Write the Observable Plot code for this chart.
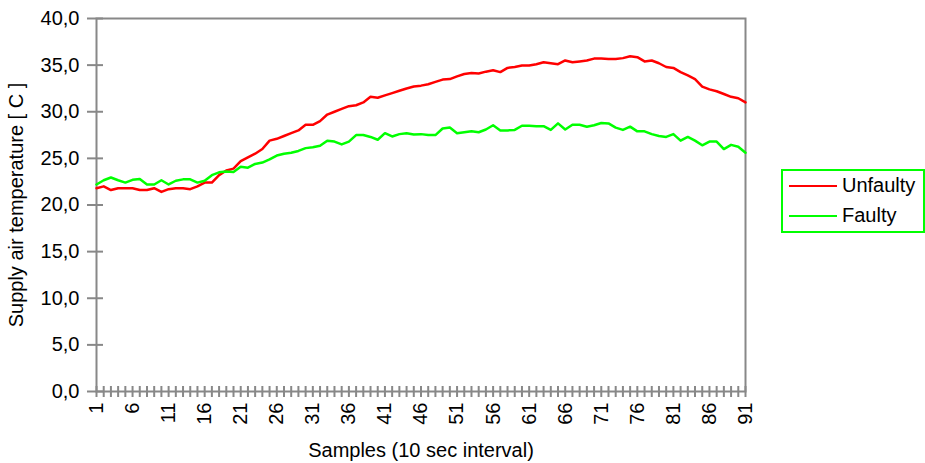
<!DOCTYPE html>
<html>
<head>
<meta charset="utf-8">
<script src="https://cdn.jsdelivr.net/npm/d3@7"></script>
<script src="https://cdn.jsdelivr.net/npm/@observablehq/plot@0.6"></script>
<style>
  html, body { margin: 0; padding: 0; background: #fff; }
  #chart { position: relative; width: 925px; height: 463px; font-family: "Liberation Sans", Arial, sans-serif; }
  .legend { position: absolute; left: 781px; top: 169px; width: 140px; height: 60px; border: 2px solid #00ff00; background: #fff; font-size: 20px; color: #000; }
  .legend .item { position: absolute; left: 6px; display: flex; align-items: center; }
  .legend .swatch { width: 48px; height: 0; border-top: 2.5px solid; margin-right: 5px; }
</style>
</head>
<body>
<div id="chart"></div>
<script>
// Sample index (10 s interval)
const samples = d3.range(1, 92);

// Supply air temperature, unfaulty run
const unfaulty = [
  21.8, 22.0, 21.6, 21.8, 21.8, 21.8, 21.6, 21.6, 21.8, 21.4,
  21.7, 21.8, 21.8, 21.7, 22.0, 22.4, 22.4, 23.2, 23.7, 23.9,
  24.7, 25.1, 25.5, 26.0, 26.9, 27.1, 27.4, 27.7, 28.0, 28.6,
  28.6, 29.0, 29.7, 30.0, 30.3, 30.6, 30.7, 31.0, 31.6, 31.5,
  31.75, 32.0, 32.25, 32.5, 32.7, 32.8, 32.95, 33.2, 33.45, 33.5,
  33.8, 34.05, 34.15, 34.1, 34.3, 34.45, 34.25, 34.7, 34.8, 34.95,
  34.95, 35.1, 35.3, 35.2, 35.1, 35.5, 35.3, 35.4, 35.5, 35.7,
  35.7, 35.65, 35.65, 35.75, 35.95, 35.85, 35.4, 35.5, 35.2, 34.8,
  34.7, 34.25, 33.9, 33.5, 32.7, 32.4, 32.2, 31.9, 31.6, 31.45,
  31.0
];

// Supply air temperature, faulty run
const faulty = [
  22.2, 22.65, 22.95, 22.65, 22.4, 22.7, 22.8, 22.2, 22.2, 22.65,
  22.2, 22.6, 22.75, 22.75, 22.4, 22.6, 23.2, 23.5, 23.6, 23.55,
  24.1, 24.0, 24.4, 24.55, 24.9, 25.3, 25.5, 25.6, 25.8, 26.1,
  26.2, 26.35, 26.9, 26.8, 26.5, 26.8, 27.5, 27.5, 27.3, 27.0,
  27.7, 27.35, 27.6, 27.7, 27.55, 27.6, 27.5, 27.5, 28.2, 28.3,
  27.7, 27.8, 27.9, 27.8, 28.1, 28.55, 28.0, 28.0, 28.05, 28.5,
  28.5, 28.45, 28.45, 28.05, 28.75, 28.1, 28.6, 28.6, 28.4, 28.55,
  28.8, 28.75, 28.3, 28.05, 28.4, 27.9, 27.9, 27.6, 27.4, 27.3,
  27.6, 26.9, 27.3, 26.9, 26.4, 26.8, 26.8, 26.0, 26.45, 26.25,
  25.6
];

const seriesNames = ["Unfaulty", "Faulty"];
const seriesColors = ["#ff0000", "#00ff00"];
const yTicks = [0, 5, 10, 15, 20, 25, 30, 35, 40];
const xLabelTicks = d3.range(1, 92, 5);

const rows = [
  ...samples.map((s, i) => ({sample: s, value: unfaulty[i], series: seriesNames[0]})),
  ...samples.map((s, i) => ({sample: s, value: faulty[i], series: seriesNames[1]}))
];

const fmt = d => d.toFixed(1).replace(".", ",");

const plot = Plot.plot({
  width: 925,
  height: 463,
  marginLeft: 96,
  marginRight: 180,
  marginTop: 18,
  marginBottom: 72,
  style: {fontFamily: "'Liberation Sans', Arial, sans-serif", fontSize: "20px", color: "#000", background: "#fff"},
  x: {domain: [1, 91]},
  y: {domain: [0, 40]},
  color: {domain: seriesNames, range: seriesColors},
  marks: [
    // crossing tick marks on both axes
    Plot.axisY({ticks: yTicks, tickSize: 16, dx: 7, tickFormat: () => "", stroke: "#888", strokeWidth: 2, label: null}),
    Plot.axisX({ticks: samples, tickSize: 11, dy: -5, tickFormat: () => "", stroke: "#888", strokeWidth: 2, label: null}),
    // tick labels and axis titles
    Plot.axisY({ticks: yTicks, tickSize: 0, tickPadding: 17, tickFormat: fmt, fill: "#000",
      label: "Supply air temperature [ C ]", labelAnchor: "center", labelArrow: "none", labelOffset: 88}),
    Plot.axisX({ticks: xLabelTicks, tickSize: 0, tickPadding: 11, tickRotate: -90, tickFormat: d => String(d), fill: "#000",
      label: "Samples (10 sec interval)", labelAnchor: "center", labelArrow: "none", labelOffset: 65}),
    Plot.frame({stroke: "#888", strokeWidth: 2}),
    Plot.line(rows, {x: "sample", y: "value", z: "series", stroke: "series", strokeWidth: 2.5})
  ]
});

const chart = document.getElementById("chart");
chart.appendChild(plot);

// legend box
const legend = document.createElement("div");
legend.className = "legend";
seriesNames.forEach((name, i) => {
  const item = document.createElement("div");
  item.className = "item";
  item.style.top = (i === 0 ? 3 : 33) + "px";
  const sw = document.createElement("span");
  sw.className = "swatch";
  sw.style.borderTopColor = seriesColors[i];
  const label = document.createElement("span");
  label.textContent = name;
  item.appendChild(sw);
  item.appendChild(label);
  legend.appendChild(item);
});
chart.appendChild(legend);
</script>
</body>
</html>
